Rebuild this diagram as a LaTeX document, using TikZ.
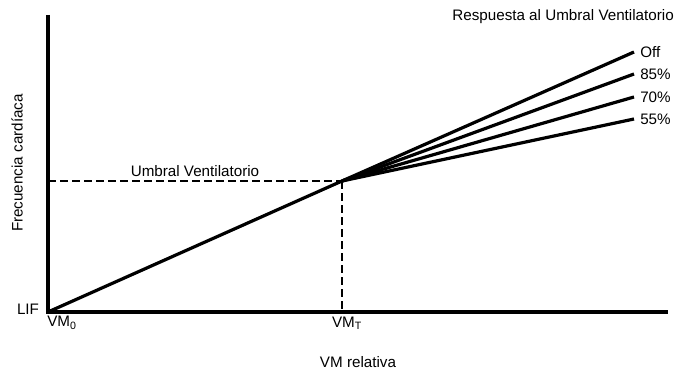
\documentclass[tikz,border=0pt]{standalone}
\usepackage{fontspec}
\setmainfont{Liberation Sans}
\usepackage{tikz}

\begin{document}
\begin{tikzpicture}[x=0.75pt,y=-0.75pt,font=\fontsize{11.4}{13}\selectfont,
  axis/.style={line width=2.4pt},
  curve/.style={line width=2.4pt},
  guide/.style={line width=2.2pt,dash pattern=on 6pt off 3pt}]
\useasboundingbox (0,0) rectangle (674,374);

\coordinate (O) at (48,312);
\coordinate (ytop) at (48,15);
\coordinate (xend) at (668,312);
\coordinate (T) at (342,181);
\coordinate (Ty) at (48,181);
\coordinate (Tx) at (342,312);

\draw[axis](ytop)--(O)--(xend);

\draw[guide](Ty)--(T);
\draw[guide](T)--(Tx);

\node (lif) at (28,309) {LIF};
\node[anchor=west,inner sep=0pt] (vm0) at (47,323) {VM\textsubscript{0}};
\node (vmt) at (347,323) {VM\textsubscript{T}};
\node (xlab) at (358,362) {VM relativa};
\node[rotate=90] (ylab) at (17,163) {Frecuencia cardíaca};
\node (ut) at (195,171) {Umbral Ventilatorio};
\node[anchor=east,inner sep=0pt] (title) at (674,17) {Respuesta al Umbral Ventilatorio};

\coordinate (off) at (634,52);
\coordinate (p85) at (634,74);
\coordinate (p70) at (634,97);
\coordinate (p55) at (634,119);

\draw[curve](O)--(T);
\draw[curve](T)--(off);
\draw[curve](T)--(p85);
\draw[curve](T)--(p70);
\draw[curve](T)--(p55);

\node[anchor=west,inner sep=0pt] (loff) at (640,52) {Off};
\node[anchor=west,inner sep=0pt] (l85) at (640,74) {85\%};
\node[anchor=west,inner sep=0pt] (l70) at (640,97) {70\%};
\node[anchor=west,inner sep=0pt] (l55) at (640,119) {55\%};
\end{tikzpicture}
\end{document}
